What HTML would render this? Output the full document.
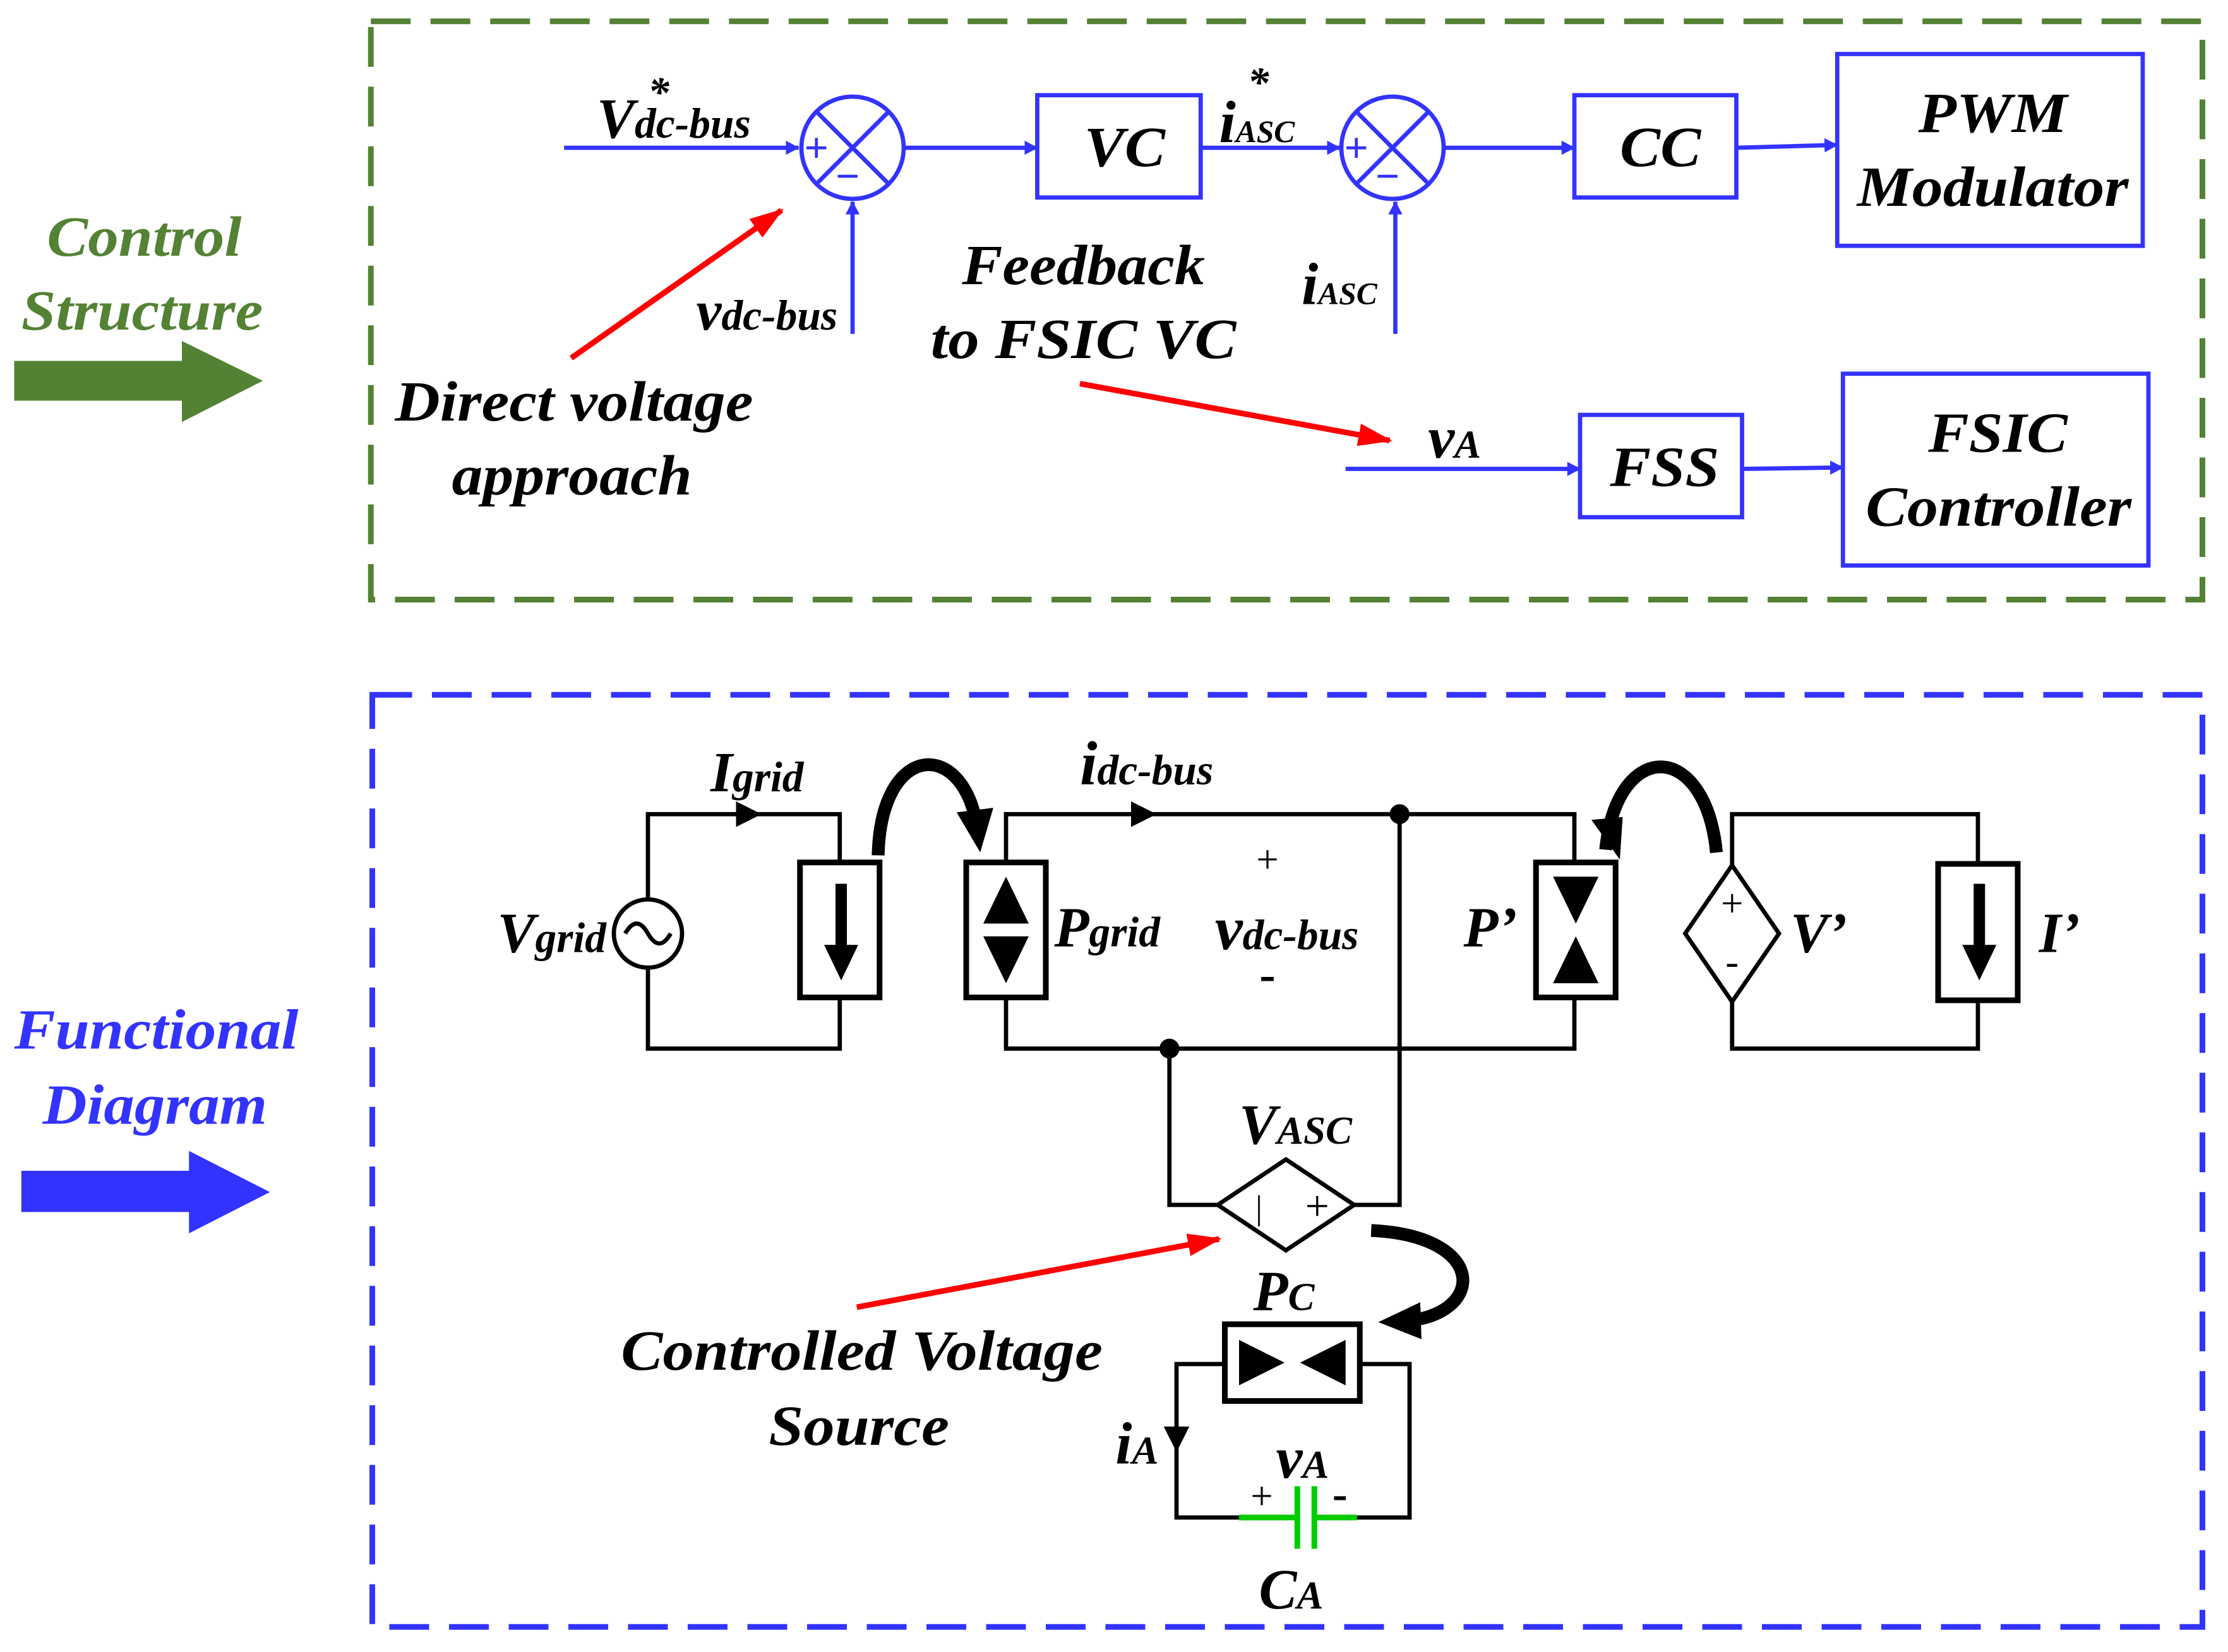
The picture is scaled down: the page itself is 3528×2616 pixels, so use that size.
<!DOCTYPE html>
<html><head><meta charset="utf-8"><style>
html,body{margin:0;padding:0;background:#fff}
svg{display:block}
text{font-family:"Liberation Serif",serif;font-weight:bold;font-style:italic}
</style></head><body>
<svg width="3528" height="2616" viewBox="0 0 1568 1162.67" xmlns="http://www.w3.org/2000/svg">
<defs>
<marker id="ab" markerWidth="10" markerHeight="10" refX="9" refY="5" orient="auto" markerUnits="userSpaceOnUse"><path d="M0,0 L16,5 L0,10 z" fill="#3333ff" transform="scale(0.6,1)"/></marker>
<marker id="ar" markerWidth="24" markerHeight="20" refX="22" refY="10" orient="auto" markerUnits="userSpaceOnUse"><path d="M0,2 L24,10 L0,18 z" fill="#ff0000"/></marker>
<marker id="ak" markerWidth="30" markerHeight="30" refX="15" refY="15" orient="auto" markerUnits="userSpaceOnUse"><path d="M0,2 L30,15 L0,28 z" fill="#000"/></marker>
</defs>
<rect x="261" y="15" width="1289" height="407" fill="none" stroke="#548235" stroke-width="4" stroke-dasharray="28,14"/>
<rect x="262" y="489" width="1288" height="656" fill="none" stroke="#3333ff" stroke-width="4" stroke-dasharray="28,14"/>
<g font-size="40" lengthAdjust="spacingAndGlyphs">
<text x="33" y="180" fill="#548235" textLength="137" lengthAdjust="spacingAndGlyphs">Control</text>
<text x="15" y="232" fill="#548235" textLength="170" lengthAdjust="spacingAndGlyphs">Structure</text>
<text x="10" y="738" fill="#3333ff" textLength="200" lengthAdjust="spacingAndGlyphs">Functional</text>
<text x="30" y="791" fill="#3333ff" textLength="158" lengthAdjust="spacingAndGlyphs">Diagram</text>
</g>
<path d="M10,254 L128,254 L128,240 L185,268 L128,297 L128,282 L10,282 z" fill="#548235"/>
<path d="M15,824 L133,824 L133,810 L190,839 L133,868 L133,853 L15,853 z" fill="#3333ff"/>

<g stroke="#3333ff" stroke-width="3" fill="none">
<line x1="397" y1="104" x2="562" y2="104" marker-end="url(#ab)"/>
<circle cx="600" cy="104" r="36"/>
<line x1="575" y1="79" x2="625" y2="129"/><line x1="625" y1="79" x2="575" y2="129"/>
<line x1="600" y1="235" x2="600" y2="142" marker-end="url(#ab)"/>
<line x1="636" y1="104" x2="730" y2="104" marker-end="url(#ab)"/>
<rect x="730" y="67" width="115" height="72"/>
<line x1="845" y1="104" x2="943" y2="104" marker-end="url(#ab)"/>
<circle cx="980" cy="104" r="36"/>
<line x1="955" y1="79" x2="1005" y2="129"/><line x1="1005" y1="79" x2="955" y2="129"/>
<line x1="982" y1="235" x2="982" y2="142" marker-end="url(#ab)"/>
<line x1="1016" y1="104" x2="1108" y2="104" marker-end="url(#ab)"/>
<rect x="1108" y="67" width="114" height="72"/>
<line x1="1222" y1="104" x2="1293" y2="102" marker-end="url(#ab)"/>
<rect x="1293" y="38" width="215" height="135"/>
<line x1="947" y1="330" x2="1112" y2="330" marker-end="url(#ab)"/>
<rect x="1112" y="292" width="114" height="72"/>
<line x1="1226" y1="330" x2="1297" y2="329" marker-end="url(#ab)"/>
<rect x="1297" y="263" width="215" height="135"/>
</g>
<g fill="#3333ff" font-family="Liberation Sans">
<text x="566" y="114" font-size="30" style="font-style:normal">+</text><text x="588" y="134" font-size="30" style="font-style:normal">−</text>
<text x="946" y="114" font-size="30" style="font-style:normal">+</text><text x="968" y="134" font-size="30" style="font-style:normal">−</text>
</g>
<g fill="#000">
<text x="420" y="97" font-size="40">V<tspan font-size="30">dc-bus</tspan></text>
<text x="456" y="75" font-size="30">*</text>
<text x="490" y="232" font-size="40">v<tspan font-size="30">dc-bus</tspan></text>
<text x="763" y="117" font-size="40" textLength="57" lengthAdjust="spacingAndGlyphs">VC</text>
<text x="858" y="100" font-size="42">i<tspan font-size="22">ASC</tspan></text>
<text x="878" y="68" font-size="30">*</text>
<text x="916" y="214" font-size="42">i<tspan font-size="22">ASC</tspan></text>
<text x="1140" y="117" font-size="40" textLength="57" lengthAdjust="spacingAndGlyphs">CC</text>
<text x="1350" y="93" font-size="40" textLength="105" lengthAdjust="spacingAndGlyphs">PWM</text>
<text x="1307" y="145" font-size="40" textLength="191" lengthAdjust="spacingAndGlyphs">Modulator</text>
<text x="677" y="200" font-size="40" textLength="171" lengthAdjust="spacingAndGlyphs">Feedback</text>
<text x="655" y="252" font-size="40" textLength="215" lengthAdjust="spacingAndGlyphs">to FSIC VC</text>
<text x="1005" y="322" font-size="42">v<tspan font-size="28">A</tspan></text>
<text x="1133" y="342" font-size="40" textLength="77" lengthAdjust="spacingAndGlyphs">FSS</text>
<text x="1357" y="318" font-size="40" textLength="98" lengthAdjust="spacingAndGlyphs">FSIC</text>
<text x="1313" y="370" font-size="40" textLength="187" lengthAdjust="spacingAndGlyphs">Controller</text>
<text x="278" y="296" font-size="40" textLength="252" lengthAdjust="spacingAndGlyphs">Direct voltage</text>
<text x="318" y="348" font-size="40" textLength="169" lengthAdjust="spacingAndGlyphs">approach</text>
</g>
<g stroke="#ff0000" stroke-width="4" fill="none">
<line x1="402" y1="252" x2="550" y2="148" marker-end="url(#ar)"/>
<line x1="760" y1="270" x2="978" y2="310" marker-end="url(#ar)"/>
<line x1="603" y1="920" x2="858" y2="872" marker-end="url(#ar)"/>
</g>

<g stroke="#000" stroke-width="3" fill="none">
<path d="M456,633 V573 H591 V607"/>
<path d="M591,702 V738 H456 V681"/>
<circle cx="456" cy="657" r="24"/>
<path d="M440,657 q8,-14 16,0 q8,14 16,0"/>
<rect x="563" y="607" width="56" height="95" stroke-width="4"/>
<path d="M708,607 V573 H1108 V607"/>
<path d="M708,702 V738 H1108 V702"/>
<rect x="680" y="607" width="56" height="95" stroke-width="4"/>
<rect x="1081" y="607" width="56" height="95" stroke-width="4"/>
<path d="M1219,609 V573 H1392 V608"/>
<path d="M1392,704 V738 H1219 V705"/>
<path d="M1219,609 L1252,657 L1219,705 L1186,657 z"/>
<rect x="1364" y="608" width="56" height="96" stroke-width="4"/>
<path d="M823,738 V848 H858"/>
<path d="M953,848 H985 V573"/>
<path d="M905,816 L953,848 L905,880 L857,848 z"/>
<rect x="862" y="932" width="95" height="54" stroke-width="4"/>
<path d="M862,960 H828 V1068 H872"/>
<path d="M955,1068 H992 V960 H957"/>
</g>
<g fill="#000">
<circle cx="985" cy="573" r="7"/><circle cx="823" cy="738" r="7"/>
<path d="M518,564 L536,573 L518,582 z"/>
<path d="M796,564 L814,573 L796,582 z"/>
<path d="M819,1004 L828,1022 L837,1004 z"/>
<rect x="588" y="622" width="8" height="50"/><path d="M580,665 L592,690 L604,665 z"/>
<path d="M708,617 L692,650 L724,650 z"/><path d="M708,692 L692,659 L724,659 z"/>
<path d="M1093,617 L1125,617 L1109,650 z"/><path d="M1093,692 L1125,692 L1109,659 z"/>
<rect x="1389" y="622" width="8" height="50"/><path d="M1381,665 L1393,690 L1405,665 z"/>
<path d="M872,943 L904,959 L872,975 z"/><path d="M947,943 L915,959 L947,975 z"/>
</g>
<g stroke="#000" stroke-width="9" fill="none">
<path d="M618,602 C620,520 680,520 688,585" marker-end="url(#ak)"/>
<path d="M1130,598 C1138,520 1200,520 1208,600"/>
<path d="M965,866 C1050,870 1045,928 985,930" marker-end="url(#ak)"/>
</g>
<path d="M1120,577 L1140,605 L1142,575 z" fill="#000"/>
<g stroke="#00cc00" stroke-width="4">
<line x1="872" y1="1068" x2="913" y2="1068"/><line x1="925" y1="1068" x2="955" y2="1068"/>
<line x1="913" y1="1046" x2="913" y2="1090"/><line x1="925" y1="1046" x2="925" y2="1090"/>
</g>
<g fill="#000" font-size="40">
<text x="500" y="557">I<tspan font-size="30">grid</tspan></text>
<text x="350" y="670">V<tspan font-size="30">grid</tspan></text>
<text x="760" y="552" font-size="44">i<tspan font-size="30">dc-bus</tspan></text>
<text x="742" y="666">P<tspan font-size="30">grid</tspan></text>
<text x="855" y="668" font-size="44">v<tspan font-size="30">dc-bus</tspan></text>
<text x="892" y="614" font-size="28" text-anchor="middle" style="font-style:normal;font-weight:normal">+</text>
<text x="892" y="697" font-size="34" text-anchor="middle" style="font-style:normal">-</text>
<text x="1030" y="666">P’</text>
<text x="1260" y="670">V’</text>
<text x="1435" y="670">I’</text>
<text x="1219" y="645" font-size="28" text-anchor="middle" style="font-style:normal;font-weight:normal">+</text>
<text x="1219" y="686" font-size="28" text-anchor="middle" style="font-style:normal;font-weight:normal">-</text>
<text x="872" y="805">V<tspan font-size="28">ASC</tspan></text>
<text x="886" y="858" font-size="24" text-anchor="middle" style="font-style:normal;font-weight:normal">|</text>
<text x="927" y="859" font-size="30" text-anchor="middle" style="font-style:normal;font-weight:normal">+</text>
<text x="882" y="922">P<tspan font-size="28">C</tspan></text>
<text x="785" y="1030" font-size="42">i<tspan font-size="28">A</tspan></text>
<text x="898" y="1040" font-size="42">v<tspan font-size="28">A</tspan></text>
<text x="888" y="1062" font-size="28" text-anchor="middle" style="font-style:normal;font-weight:normal">+</text>
<text x="943" y="1062" font-size="32" text-anchor="middle" style="font-style:normal">-</text>
<text x="886" y="1132">C<tspan font-size="28">A</tspan></text>
<text x="437" y="964" textLength="339" lengthAdjust="spacingAndGlyphs">Controlled Voltage</text>
<text x="541" y="1017" textLength="127" lengthAdjust="spacingAndGlyphs">Source</text>
</g>
</svg>
</body></html>
